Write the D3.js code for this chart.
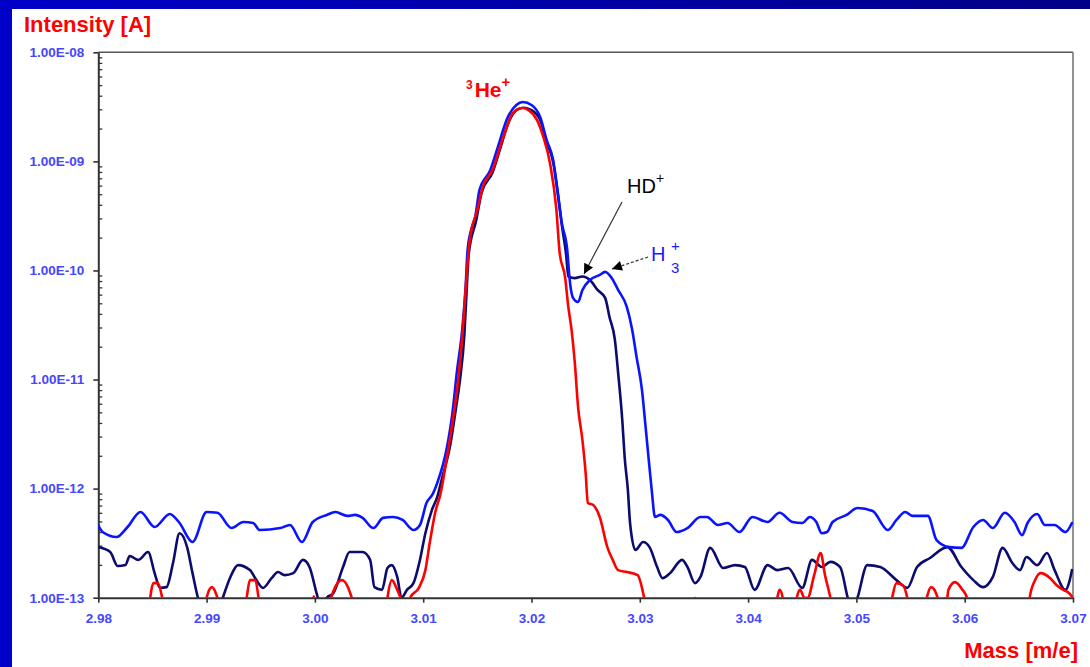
<!DOCTYPE html>
<html>
<head>
<meta charset="utf-8">
<script src="https://cdn.jsdelivr.net/npm/d3@7"></script>
<style>
  html, body { margin: 0; padding: 0; background: #ffffff; }
  svg { display: block; }
  text { font-family: "Liberation Sans", Arial, sans-serif; }
</style>
</head>
<body>
<svg id="chart" width="1090" height="667"></svg>
<script>
// ---------------- DATA ----------------
const xTicks = [2.98, 2.99, 3.00, 3.01, 3.02, 3.03, 3.04, 3.05, 3.06, 3.07];
const yTicks = [1e-13, 1e-12, 1e-11, 1e-10, 1e-9, 1e-8];

// H3+ (blue) : [mass, intensity A]
const seriesBlue = [
  [2.9800,4.6e-13],[2.9804,4.0e-13],[2.9817,3.6e-13],[2.9827,4.45e-13],[2.9839,6.1e-13],
  [2.9852,4.45e-13],[2.9866,5.86e-13],[2.9875,4.84e-13],[2.9887,3.24e-13],[2.9900,6.1e-13],
  [2.9910,6.0e-13],[2.9923,4.35e-13],[2.9934,4.94e-13],[2.9943,4.84e-13],[2.9949,4.17e-13],
  [2.9968,4.35e-13],[2.9977,4.64e-13],[2.9988,3.24e-13],[2.9998,4.94e-13],[3.0011,5.74e-13],
  [3.0019,6.1e-13],[3.0030,5.62e-13],[3.0037,5.74e-13],[3.0044,5.39e-13],[3.0054,4.35e-13],
  [3.0063,5.39e-13],[3.0072,5.5e-13],[3.0081,5.16e-13],[3.0091,4.17e-13],[3.0097,4.64e-13],
  [3.0103,7.38e-13],[3.0109,9.0e-13],[3.0113,1.13e-12],[3.0122,2.41e-12],[3.0127,4.94e-12],
  [3.0131,1.15e-11],[3.0136,2.85e-11],[3.0139,6.63e-11],[3.0141,1.54e-10],[3.0145,2.5e-10],
  [3.0148,3.09e-10],[3.0152,5.47e-10],[3.0162,8.34e-10],[3.0169,1.36e-9],[3.0177,2.4e-9],
  [3.0186,3.29e-9],[3.0192,3.5e-9],[3.0200,3.29e-9],[3.0208,2.55e-9],[3.0214,1.57e-9],
  [3.0220,1.03e-9],[3.0224,5.47e-10],[3.0228,2.72e-10],[3.0233,1.54e-10],[3.0235,8.72e-11],
  [3.0238,5.71e-11],[3.0243,5.14e-11],[3.0247,6.63e-11],[3.0254,8.18e-11],[3.0263,9.1e-11],
  [3.0268,9.7e-11],[3.0274,8.54e-11],[3.0280,6.63e-11],[3.0288,4.63e-11],[3.0293,2.85e-11],
  [3.0297,1.61e-11],[3.0302,8.03e-12],[3.0305,4.0e-12],[3.0308,1.95e-12],[3.0311,9.7e-13],
  [3.0314,5.5e-13],[3.0319,5.74e-13],[3.0326,5.16e-13],[3.0334,4.0e-13],[3.0344,4.35e-13],
  [3.0356,5.5e-13],[3.0362,5.5e-13],[3.0372,4.64e-13],[3.0381,4.84e-13],[3.0392,4.0e-13],
  [3.0404,5.5e-13],[3.0418,4.94e-13],[3.0429,6.0e-13],[3.0441,4.94e-13],[3.0450,4.84e-13],
  [3.0457,5.5e-13],[3.0463,4.94e-13],[3.0468,3.9e-13],[3.0473,4.0e-13],[3.0478,4.94e-13],
  [3.0491,5.74e-13],[3.0501,6.64e-13],[3.0515,6.23e-13],[3.0529,4.17e-13],[3.0537,5.16e-13],
  [3.0545,6.1e-13],[3.0552,5.62e-13],[3.0566,5.62e-13],[3.0574,3.38e-13],[3.0586,2.91e-13],
  [3.0597,2.86e-13],[3.0608,4.45e-13],[3.0617,5.16e-13],[3.0626,4.35e-13],[3.0637,6.0e-13],
  [3.0646,4.94e-13],[3.0653,3.75e-13],[3.0658,4.84e-13],[3.0667,5.86e-13],[3.0674,4.64e-13],
  [3.0683,4.64e-13],[3.0693,4.0e-13],[3.0699,4.84e-13]
];

// HD+ (navy) : [mass, intensity A]
const seriesNavy = [
  [2.9800,2.91e-13],[2.9811,2.62e-13],[2.9818,1.95e-13],[2.9825,1.99e-13],[2.9829,2.41e-13],
  [2.9837,2.22e-13],[2.9846,2.62e-13],[2.9852,1.68e-13],[2.9857,1.23e-13],[2.9863,1.25e-13],
  [2.9869,2.08e-13],[2.9875,3.9e-13],[2.9882,2.91e-13],[2.9887,1.68e-13],[2.9892,1.0e-13],
  [2.9898,7e-14],[2.9910,7e-14],[2.9915,1.0e-13],[2.9922,1.55e-13],[2.9929,1.99e-13],
  [2.9940,1.79e-13],[2.9946,1.45e-13],[2.9952,1.23e-13],[2.9960,1.51e-13],[2.9966,1.72e-13],
  [2.9972,1.61e-13],[2.9980,1.68e-13],[2.9989,2.22e-13],[2.9995,1.91e-13],[3.0002,1.06e-13],
  [3.0006,8e-14],[3.0011,1.0e-13],[3.0017,1.1e-13],[3.0026,1.91e-13],[3.0032,2.62e-13],
  [3.0044,2.62e-13],[3.0051,2.22e-13],[3.0055,1.25e-13],[3.0062,1.18e-13],[3.0067,1.87e-13],
  [3.0071,1.99e-13],[3.0076,1.55e-13],[3.0080,1.0e-13],[3.0085,1.18e-13],[3.0091,1.36e-13],
  [3.0097,2.22e-13],[3.0102,3.9e-13],[3.0108,6.36e-13],[3.0113,8.4e-13],[3.0117,1.2e-12],
  [3.0125,2.52e-12],[3.0130,5.26e-12],[3.0134,1.0e-11],[3.0138,2.56e-11],[3.0140,6.2e-11],
  [3.0142,1.4e-10],[3.0149,2.9e-10],[3.0154,5.2e-10],[3.0164,7.9e-10],[3.0171,1.3e-9],
  [3.0179,2.3e-9],[3.0187,3.0e-9],[3.0193,3.1e-9],[3.0200,2.95e-9],[3.0208,2.4e-9],
  [3.0214,1.5e-9],[3.0220,9.8e-10],[3.0224,5.3e-10],[3.0228,2.6e-10],[3.0232,1.39e-10],
  [3.0234,8.8e-11],[3.0240,8.5e-11],[3.0247,8.8e-11],[3.0254,8.18e-11],[3.0261,6.63e-11],
  [3.0268,5.6e-11],[3.0272,3.75e-11],[3.0277,2.31e-11],[3.0280,1.15e-11],[3.0284,4.0e-12],
  [3.0286,1.95e-12],[3.0289,9.7e-13],[3.0291,4.84e-13],[3.0296,2.74e-13],[3.0303,3.24e-13],
  [3.0309,2.91e-13],[3.0316,1.91e-13],[3.0321,1.51e-13],[3.0328,1.68e-13],[3.0339,2.22e-13],
  [3.0344,1.91e-13],[3.0351,1.36e-13],[3.0356,1.55e-13],[3.0365,2.86e-13],[3.0377,1.87e-13],
  [3.0388,1.99e-13],[3.0397,1.91e-13],[3.0406,1.18e-13],[3.0418,1.99e-13],[3.0427,1.79e-13],
  [3.0437,1.87e-13],[3.0450,1.23e-13],[3.0459,2.22e-13],[3.0468,1.91e-13],[3.0476,2.13e-13],
  [3.0485,1.91e-13],[3.0492,1.0e-13],[3.0496,7.5e-14],[3.0501,1.0e-13],[3.0510,1.99e-13],
  [3.0522,1.91e-13],[3.0537,1.45e-13],[3.0547,1.23e-13],[3.0556,1.91e-13],[3.0568,2.31e-13],
  [3.0584,2.91e-13],[3.0597,1.91e-13],[3.0608,1.45e-13],[3.0617,1.25e-13],[3.0626,1.55e-13],
  [3.0635,2.86e-13],[3.0644,2.08e-13],[3.0651,1.79e-13],[3.0657,2.36e-13],[3.0667,1.99e-13],
  [3.0676,2.57e-13],[3.0683,1.79e-13],[3.0693,1.18e-13],[3.0697,1.45e-13],[3.0699,1.79e-13]
];

// 3He+ (red) : [mass, intensity A]
const seriesRed = [
  [2.9800,6e-14],[2.9846,6e-14],[2.9848,1.0e-13],[2.9851,1.36e-13],[2.9855,1.36e-13],
  [2.9859,1.0e-13],[2.9862,7e-14],[2.9897,7e-14],[2.9900,1.0e-13],[2.9905,1.25e-13],
  [2.9910,1.0e-13],[2.9914,7e-14],[2.9934,7e-14],[2.9937,1.0e-13],[2.9940,1.45e-13],
  [2.9945,1.45e-13],[2.9948,1.0e-13],[2.9951,7e-14],[2.9995,7e-14],[2.9999,1.03e-13],
  [3.0002,7e-14],[3.0012,7e-14],[3.0015,1.0e-13],[3.0025,1.45e-13],[3.0034,1.0e-13],
  [3.0038,7e-14],[3.0065,7e-14],[3.0067,1.0e-13],[3.0071,1.45e-13],[3.0076,1.18e-13],
  [3.0079,1.0e-13],[3.0082,7.5e-14],[3.0086,7.5e-14],[3.0088,1.0e-13],[3.0096,1.23e-13],
  [3.0102,1.79e-13],[3.0106,3.17e-13],[3.0111,5.98e-13],[3.0116,9.0e-13],[3.0122,1.95e-12],
  [3.0127,4.0e-12],[3.0132,9.3e-12],[3.0137,3.3e-11],[3.0140,8.7e-11],[3.0143,1.9e-10],
  [3.0150,3.59e-10],[3.0155,5.83e-10],[3.0164,8.34e-10],[3.0174,1.67e-9],[3.0183,2.78e-9],
  [3.0192,3.09e-9],[3.0197,2.96e-9],[3.0205,2.4e-9],[3.0211,1.67e-9],[3.0217,9.7e-10],
  [3.0223,3.59e-10],[3.0226,1.45e-10],[3.0231,8.7e-11],[3.0234,4.63e-11],[3.0237,2.85e-11],
  [3.0240,1.42e-11],[3.0243,5.6e-12],[3.0247,2.8e-12],[3.0250,1.39e-12],[3.0252,7.38e-13],
  [3.0257,7.07e-13],[3.0263,5.5e-13],[3.0270,2.91e-13],[3.0275,2.22e-13],[3.0280,1.79e-13],
  [3.0288,1.72e-13],[3.0298,1.61e-13],[3.0304,1.0e-13],[3.0307,7e-14],[3.0348,7e-14],
  [3.0351,1.0e-13],[3.0354,7e-14],[3.0424,7e-14],[3.0427,1.0e-13],[3.0429,1.18e-13],
  [3.0432,1.0e-13],[3.0434,7e-14],[3.0443,7e-14],[3.0445,1.0e-13],[3.0448,1.18e-13],
  [3.0452,1.0e-13],[3.0455,1.0e-13],[3.0461,1.61e-13],[3.0467,2.57e-13],[3.0471,1.61e-13],
  [3.0476,1.0e-13],[3.0479,7e-14],[3.0530,7e-14],[3.0533,1.0e-13],[3.0537,1.36e-13],
  [3.0543,1.3e-13],[3.0547,1.0e-13],[3.0550,7e-14],[3.0562,7e-14],[3.0565,1.0e-13],
  [3.0569,1.25e-13],[3.0575,1.0e-13],[3.0578,7e-14],[3.0582,7e-14],[3.0585,1.18e-13],
  [3.0591,1.39e-13],[3.0598,1.18e-13],[3.0602,1.0e-13],[3.0605,7e-14],[3.0658,7e-14],
  [3.0660,1.0e-13],[3.0665,1.45e-13],[3.0670,1.68e-13],[3.0679,1.51e-13],[3.0685,1.3e-13],
  [3.0691,1.18e-13],[3.0695,1.13e-13],[3.0700,1.0e-13]
];

// ---------------- DRAWING ----------------
const svg = d3.select("#chart");
const W = 1090, H = 667;
const plot = { left: 98.3, right: 1073, top: 52.3, bottom: 597.7 };

const defs = svg.append("defs");
const grad = defs.append("linearGradient").attr("id", "topbar").attr("x1", "0%").attr("x2", "100%");
grad.append("stop").attr("offset", "0%").attr("stop-color", "#0000c8");
grad.append("stop").attr("offset", "100%").attr("stop-color", "#000088");
defs.append("clipPath").attr("id", "plotclip").append("rect")
  .attr("x", plot.left).attr("y", plot.top - 2)
  .attr("width", plot.right - plot.left).attr("height", plot.bottom - plot.top + 2);
defs.append("marker").attr("id", "arrowhead")
  .attr("viewBox", "0 0 10 10").attr("refX", 10).attr("refY", 5)
  .attr("markerWidth", 11).attr("markerHeight", 10).attr("markerUnits", "userSpaceOnUse")
  .attr("orient", "auto")
  .append("path").attr("d", "M0,0 L10,5 L0,10 Z").attr("fill", "#000");

// background frame
svg.append("rect").attr("x", 0).attr("y", 0).attr("width", W).attr("height", H).attr("fill", "#ffffff");
svg.append("rect").attr("x", 0).attr("y", 0).attr("width", W).attr("height", 9).attr("fill", "url(#topbar)");
svg.append("rect").attr("x", 0).attr("y", 0).attr("width", 12).attr("height", H).attr("fill", "#0000c8");

const x = d3.scaleLinear().domain([2.98, 3.07]).range([plot.left, plot.right]);
const y = d3.scaleLog().domain([1e-13, 1e-8]).range([plot.bottom, plot.top]);

// plot frame (top & right)
svg.append("line").attr("x1", plot.left).attr("x2", plot.right).attr("y1", plot.top).attr("y2", plot.top)
  .attr("stroke", "#555").attr("stroke-width", 1.6);
svg.append("line").attr("x1", plot.right).attr("x2", plot.right).attr("y1", plot.top).attr("y2", plot.bottom)
  .attr("stroke", "#777").attr("stroke-width", 1.6);

// minor ticks on y (inward)
const minor = [];
for (let e = -13; e < -8; e++) for (let m = 2; m <= 9; m++) minor.push(m * Math.pow(10, e));
svg.append("g").attr("transform", `translate(${plot.left},0)`)
  .call(d3.axisLeft(y).tickValues(minor).tickSize(-4).tickFormat(""))
  .call(g => g.select(".domain").remove())
  .call(g => g.selectAll("line").attr("stroke", "#333").attr("stroke-width", 1.3));

// y axis
const yFmt = d => "1.00E-" + String(-Math.round(Math.log10(d))).padStart(2, "0");
svg.append("g").attr("transform", `translate(${plot.left},0)`)
  .call(d3.axisLeft(y).tickValues(yTicks).tickSize(5).tickSizeOuter(0).tickPadding(9).tickFormat(yFmt))
  .call(g => g.select(".domain").attr("stroke", "#333").attr("stroke-width", 2))
  .call(g => g.selectAll("line").attr("stroke", "#333").attr("stroke-width", 1.6))
  .call(g => g.selectAll("text").attr("fill", "#4646ff").attr("font-size", "13.5px")
      .attr("font-weight", "bold").attr("font-family", "Liberation Sans, Arial, sans-serif"));

// x axis
svg.append("g").attr("transform", `translate(0,${plot.bottom})`)
  .call(d3.axisBottom(x).tickValues(xTicks).tickSize(5).tickSizeOuter(0).tickPadding(11).tickFormat(d3.format(".2f")))
  .call(g => g.select(".domain").attr("stroke", "#333").attr("stroke-width", 2))
  .call(g => g.selectAll("line").attr("stroke", "#333").attr("stroke-width", 1.6))
  .call(g => g.selectAll("text").attr("fill", "#4646ff").attr("font-size", "13.5px")
      .attr("font-weight", "bold").attr("font-family", "Liberation Sans, Arial, sans-serif"));

// lines
const line = d3.line().x(d => x(d[0])).y(d => y(d[1])).curve(d3.curveMonotoneX);
const lines = svg.append("g").attr("clip-path", "url(#plotclip)");
[[seriesNavy, "#0c0c6e"], [seriesBlue, "#0a14ff"], [seriesRed, "#ff0000"]].forEach(([s, c]) => {
  lines.append("path").datum(s).attr("d", line).attr("fill", "none")
    .attr("stroke", c).attr("stroke-width", 2.6).attr("stroke-linejoin", "round").attr("stroke-linecap", "round");
});

// axis titles
svg.append("text").attr("x", 24).attr("y", 32).attr("fill", "#ff0000")
  .attr("font-size", "22px").attr("font-weight", "bold").text("Intensity [A]");
svg.append("text").attr("x", 1078).attr("y", 658).attr("text-anchor", "end").attr("fill", "#ff0000")
  .attr("font-size", "22px").attr("font-weight", "bold").text("Mass [m/e]");

// annotations
const he = svg.append("text").attr("x", 466).attr("y", 97).attr("fill", "#ff0000").attr("font-size", "21px").attr("font-weight", "bold");
he.append("tspan").attr("font-size", "12px").attr("dy", -8).text("3");
he.append("tspan").attr("dy", 8).attr("dx", 2).text("He");
he.append("tspan").attr("font-size", "15px").attr("dy", -10).text("+");

const hd = svg.append("text").attr("x", 627).attr("y", 193).attr("fill", "#000").attr("font-size", "20px");
hd.append("tspan").text("HD");
hd.append("tspan").attr("font-size", "14px").attr("dy", -10).text("+");

svg.append("text").attr("x", 651).attr("y", 261).attr("fill", "#1a1aff").attr("font-size", "20px").text("H");
svg.append("text").attr("x", 671).attr("y", 273).attr("fill", "#1a1aff").attr("font-size", "15px").text("3");
svg.append("text").attr("x", 671).attr("y", 251).attr("fill", "#1a1aff").attr("font-size", "15px").text("+");

svg.append("line").attr("x1", 622).attr("y1", 202).attr("x2", 584).attr("y2", 274)
  .attr("stroke", "#333").attr("stroke-width", 1.2).attr("marker-end", "url(#arrowhead)");
svg.append("line").attr("x1", 648).attr("y1", 257).attr("x2", 612).attr("y2", 269)
  .attr("stroke", "#333").attr("stroke-width", 1.2).attr("stroke-dasharray", "3,2").attr("marker-end", "url(#arrowhead)");
</script>
</body>
</html>
